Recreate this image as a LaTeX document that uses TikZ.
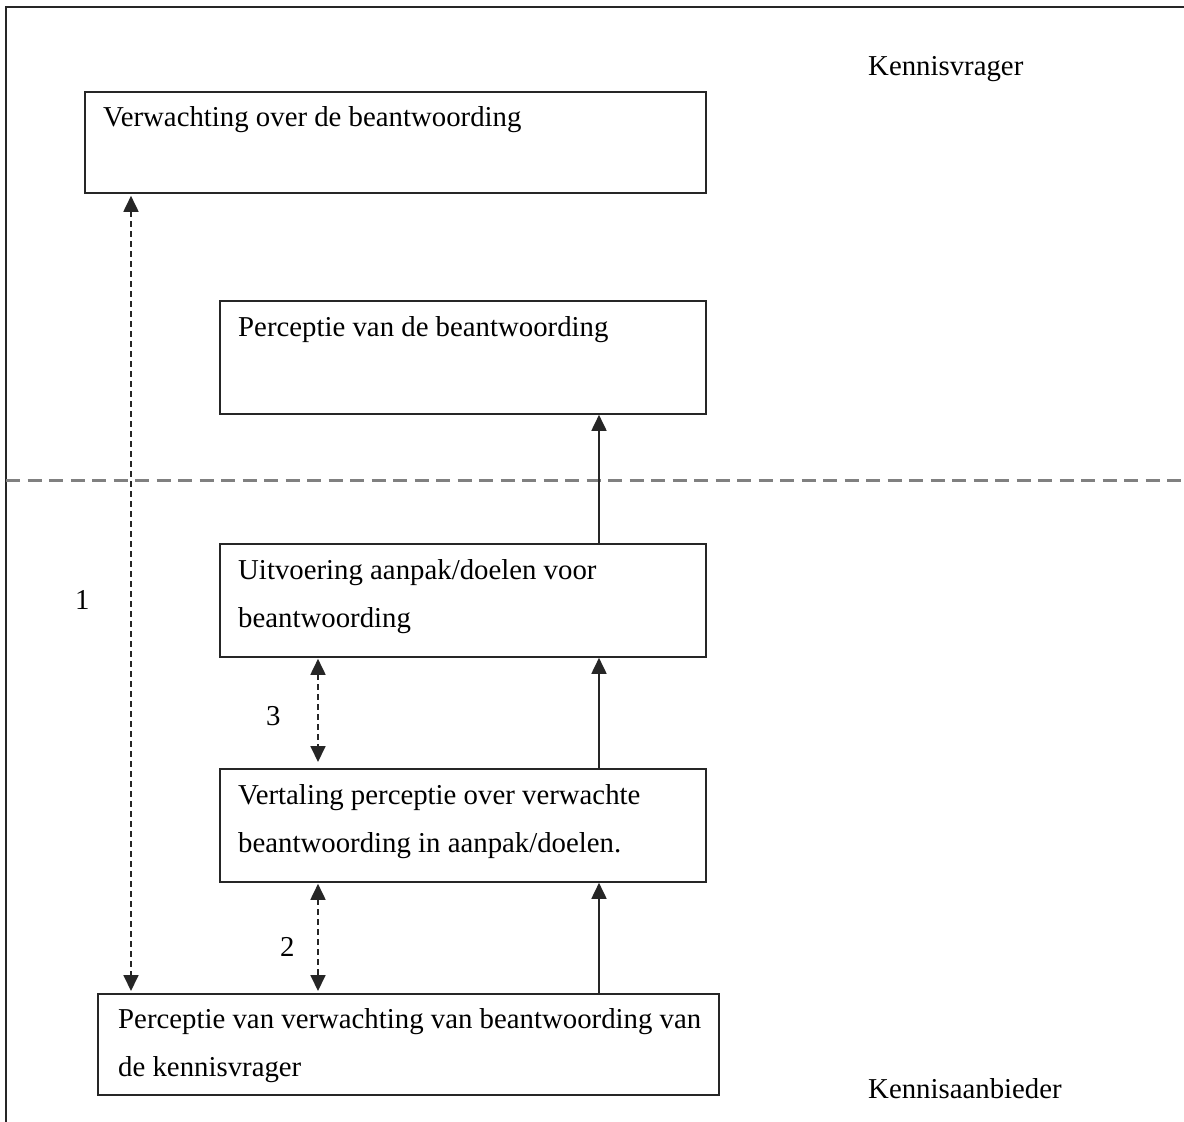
\documentclass[tikz,border=0pt]{standalone}
\usepackage{fontspec}
\setmainfont{Liberation Serif}
\usetikzlibrary{arrows.meta}

\tikzset{
  box/.style={draw=black!85, line width=1.8pt, rectangle, inner sep=0pt, anchor=north west},
  txt/.style={anchor=base west, inner sep=0pt, font=\fontsize{28.8}{34}\selectfont},
  flow/.style={draw=black!85, line width=1.8pt, -{Triangle[width=15pt,length=16pt]}},
  link/.style={draw=black!85, line width=1.8pt, dash pattern=on 6pt off 4pt,
    {Triangle[width=15pt,length=16pt]}-{Triangle[width=15pt,length=16pt]}},
  divider/.style={draw=black!50, line width=3pt, dash pattern=on 14pt off 7.5pt},
  frame/.style={draw=black!85, line width=2pt},
}

\begin{document}
\begin{tikzpicture}[x=1pt, y=-1pt]
  \useasboundingbox (0,0) rectangle (1184,1122);

  % outer frame (left and top edges)
  \coordinate (fbl) at (6,1122);
  \coordinate (ftl) at (6,7);
  \coordinate (ftr) at (1184,7);
  \draw[frame] (fbl) -- (ftl) -- (ftr);

  % divider between the two parties
  \coordinate (dl) at (6,480);
  \coordinate (dr) at (1184,480);
  \draw[divider] (dl) -- (dr);

  % boxes
  \node[box, minimum width=621pt, minimum height=101pt] (bA) at (84,91) {};
  \node[box, minimum width=486pt, minimum height=113pt] (bB) at (219,300) {};
  \node[box, minimum width=486pt, minimum height=113pt] (bC) at (219,543) {};
  \node[box, minimum width=486pt, minimum height=113pt] (bD) at (219,768) {};
  \node[box, minimum width=621pt, minimum height=101pt] (bE) at (97,993) {};

  % box texts
  \node[txt] (tA) at (103,126) {Verwachting over de beantwoording};
  \node[txt] (tB) at (238,336) {Perceptie van de beantwoording};
  \node[txt] (tC1) at (238,579) {Uitvoering aanpak/doelen voor};
  \node[txt] (tC2) at (238,627) {beantwoording};
  \node[txt] (tD1) at (238,804) {Vertaling perceptie over verwachte};
  \node[txt] (tD2) at (238,852) {beantwoording in aanpak/doelen.};
  \node[txt] (tE1) at (118,1028) {Perceptie van verwachting van beantwoording van};
  \node[txt] (tE2) at (118,1076) {de kennisvrager};

  % side labels
  \node[txt] (kv) at (868,75) {Kennisvrager};
  \node[txt] (ka) at (868,1098) {Kennisaanbieder};

  % connector columns
  \coordinate (c1) at (131,0);
  \coordinate (c2) at (318,0);
  \coordinate (c3) at (599,0);

  % solid upward flow
  \draw[flow] (bE.north -| c3) -- (bD.south -| c3);
  \draw[flow] (bD.north -| c3) -- (bC.south -| c3);
  \draw[flow] (bC.north -| c3) -- (bB.south -| c3);

  % dashed two-way links
  \draw[link] ([yshift=-2pt]bA.south -| c1) -- ([yshift=2pt]bE.north -| c1);
  \draw[link] ([yshift=-1pt]bC.south -| c2) -- ([yshift=6pt]bD.north -| c2);
  \draw[link] ([yshift=-1pt]bD.south -| c2) -- ([yshift=2pt]bE.north -| c2);

  % link numbers
  \node[txt] (n1) at (75,609) {1};
  \node[txt] (n3) at (266,725) {3};
  \node[txt] (n2) at (280,956) {2};
\end{tikzpicture}
\end{document}
